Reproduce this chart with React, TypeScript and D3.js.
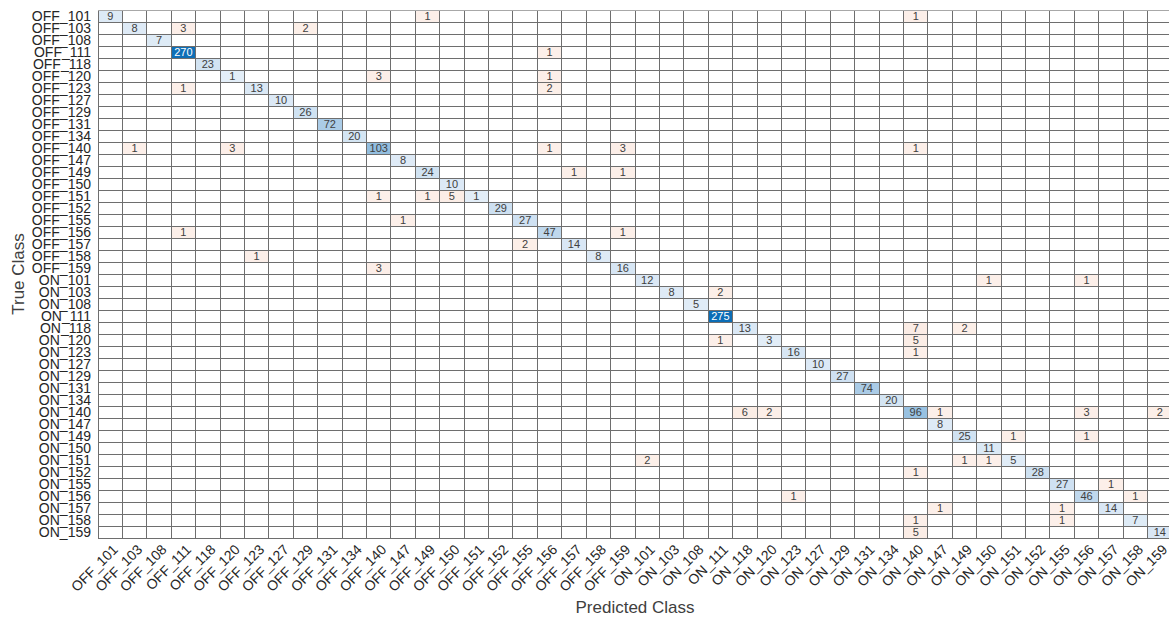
import React from 'react'
import * as d3 from 'd3'

const codes = ['101', '103', '108', '111', '118', '120', '123', '127', '129', '131', '134',
  '140', '147', '149', '150', '151', '152', '155', '156', '157', '158', '159']
const classes = [...codes.map(c => `OFF_${c}`), ...codes.map(c => `ON_${c}`)]

// correct predictions, in the same order as classes
const diagonalCounts = [
  9, 8, 7, 270, 23, 1, 13, 10, 26, 72, 20, 103, 8, 24, 10, 1, 29, 27, 47, 14, 8, 16,
  12, 8, 5, 275, 13, 3, 16, 10, 27, 74, 20, 96, 8, 25, 11, 5, 28, 27, 46, 14, 7, 14
]

// [true class, predicted class, count]
const offDiagonal: [string, string, number][] = [
  ['OFF_101', 'OFF_149', 1], ['OFF_101', 'ON_140', 1],
  ['OFF_103', 'OFF_111', 3], ['OFF_103', 'OFF_129', 2],
  ['OFF_111', 'OFF_156', 1],
  ['OFF_120', 'OFF_140', 3], ['OFF_120', 'OFF_156', 1],
  ['OFF_123', 'OFF_111', 1], ['OFF_123', 'OFF_156', 2],
  ['OFF_140', 'OFF_103', 1], ['OFF_140', 'OFF_120', 3], ['OFF_140', 'OFF_156', 1],
  ['OFF_140', 'OFF_159', 3], ['OFF_140', 'ON_140', 1],
  ['OFF_149', 'OFF_157', 1], ['OFF_149', 'OFF_159', 1],
  ['OFF_151', 'OFF_140', 1], ['OFF_151', 'OFF_149', 1], ['OFF_151', 'OFF_150', 5],
  ['OFF_155', 'OFF_147', 1],
  ['OFF_156', 'OFF_111', 1], ['OFF_156', 'OFF_159', 1],
  ['OFF_157', 'OFF_155', 2],
  ['OFF_158', 'OFF_123', 1],
  ['OFF_159', 'OFF_140', 3],
  ['ON_101', 'ON_150', 1], ['ON_101', 'ON_156', 1],
  ['ON_103', 'ON_111', 2],
  ['ON_118', 'ON_140', 7], ['ON_118', 'ON_149', 2],
  ['ON_120', 'ON_111', 1], ['ON_120', 'ON_140', 5],
  ['ON_123', 'ON_140', 1],
  ['ON_140', 'ON_118', 6], ['ON_140', 'ON_120', 2], ['ON_140', 'ON_147', 1],
  ['ON_140', 'ON_156', 3], ['ON_140', 'ON_159', 2],
  ['ON_149', 'ON_151', 1], ['ON_149', 'ON_156', 1],
  ['ON_151', 'ON_101', 2], ['ON_151', 'ON_149', 1], ['ON_151', 'ON_150', 1],
  ['ON_152', 'ON_140', 1],
  ['ON_155', 'ON_157', 1],
  ['ON_156', 'ON_123', 1], ['ON_156', 'ON_158', 1],
  ['ON_157', 'ON_147', 1], ['ON_157', 'ON_155', 1],
  ['ON_158', 'ON_140', 1], ['ON_158', 'ON_155', 1],
  ['ON_159', 'ON_140', 5]
]

const W = 1169
const H = 621
const margin = { left: 98, top: 10 }
const gridW = 1074
const gridH = 528
const font = "'Liberation Sans', Arial, sans-serif"

export default function App() {
  const x = d3.scaleBand().domain(classes).range([margin.left, margin.left + gridW])
  const y = d3.scaleBand().domain(classes).range([margin.top, margin.top + gridH])
  const maxCount = d3.max(diagonalCounts) as number
  const blue = d3.scaleLinear<string>().domain([0, maxCount]).range(['#e4eef8', '#0b6db6'])
  const red = d3.scaleLinear<string>().domain([0, maxCount]).range(['#fcf0ea', '#d95319'])

  const cells = [
    ...diagonalCounts.map((v, i) => ({ t: classes[i], p: classes[i], v, diag: true })),
    ...offDiagonal.map(([t, p, v]) => ({ t, p, v, diag: false }))
  ]

  const bw = x.bandwidth()
  const bh = y.bandwidth()

  return (
    <svg width={W} height={H} style={{ position: 'absolute', left: 0, top: 0, background: '#fff' }}
      fontFamily={font}>
      <g>
        {cells.map((c, i) => (
          <rect key={i} x={x(c.p)} y={y(c.t)} width={bw} height={bh}
            fill={c.diag ? blue(c.v) : red(c.v)} />
        ))}
      </g>
      <g stroke="#6e6e6e" strokeWidth={1} shapeRendering="crispEdges">
        {d3.range(classes.length + 1).map(i => (
          <line key={'v' + i} x1={margin.left + i * bw} x2={margin.left + i * bw}
            y1={margin.top} y2={margin.top + gridH} />
        ))}
        {d3.range(classes.length + 1).map(i => (
          <line key={'h' + i} y1={margin.top + i * bh} y2={margin.top + i * bh}
            x1={margin.left} x2={margin.left + gridW} stroke={i === 0 ? '#a8a8a8' : undefined} />
        ))}
      </g>
      <g fontSize={11} textAnchor="middle">
        {cells.map((c, i) => (
          <text key={i} x={(x(c.p) as number) + bw / 2} y={(y(c.t) as number) + bh / 2}
            dy="0.36em" fill={c.v / maxCount > 0.6 ? '#ffffff' : '#404040'}>{c.v}</text>
        ))}
      </g>
      <g fontSize={14} fill="#262626" textAnchor="end">
        {classes.map(c => (
          <text key={c} x={margin.left - 7} y={(y(c) as number) + bh / 2} dy="0.36em">{c}</text>
        ))}
      </g>
      <g fontSize={14} fill="#262626" textAnchor="end">
        {classes.map(c => {
          const cx = (x(c) as number) + bw / 2
          return (
            <text key={c} transform={`translate(${cx + 5},${margin.top + gridH + 9}) rotate(-45)`}
              dy="0.36em">{c}</text>
          )
        })}
      </g>
      <text x={margin.left + gridW / 2} y={613} textAnchor="middle" fontSize={17} fill="#404040">
        Predicted Class
      </text>
      <text transform={`translate(24,${margin.top + gridH / 2}) rotate(-90)`} textAnchor="middle"
        fontSize={17} fill="#404040">True Class</text>
    </svg>
  )
}
